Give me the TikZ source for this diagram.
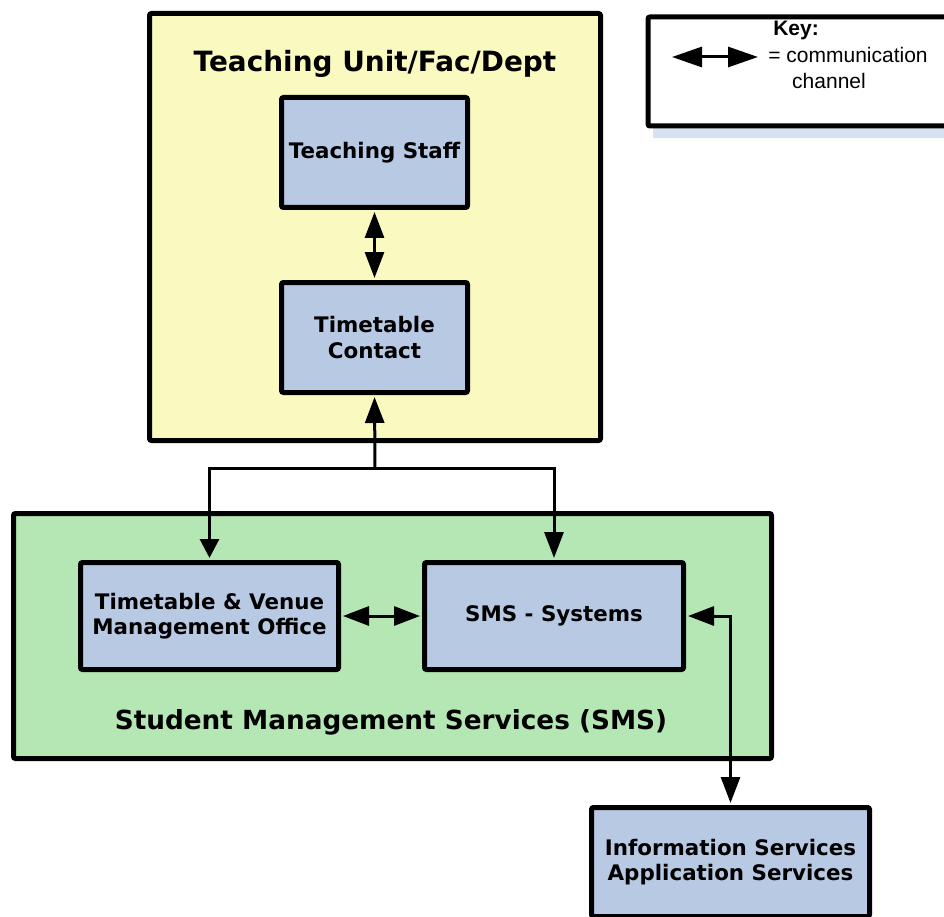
\documentclass[tikz,border=0pt]{standalone}
\usepackage{fontspec}
\setmainfont{DejaVu Sans}
\newfontfamily\keyfont{Liberation Sans}
\usetikzlibrary{arrows.meta}
\definecolor{yel}{RGB}{250,250,192}
\definecolor{grn}{RGB}{181,231,180}
\definecolor{bluebox}{RGB}{184,201,227}
\definecolor{shad}{RGB}{214,226,242}
\tikzset{
  outerbox/.style={draw, line width=5pt, rounded corners=2pt},
  innerbox/.style={draw, line width=5pt, rounded corners=2pt, fill=bluebox, align=center,
    font=\bfseries\fontsize{21.4}{25.5}\selectfont},
  bigtitle/.style={font=\bfseries\fontsize{26.3}{30}\selectfont},
  conn/.style={line width=3pt},
  tipa/.style={-{Triangle[length=26pt,width=19pt]}, shorten >=2pt},
  tipb/.style={{Triangle[length=26pt,width=19pt]}-{Triangle[length=26pt,width=19pt]}, shorten >=2pt, shorten <=2pt},
}
\begin{document}
\begin{tikzpicture}[x=1pt,y=-1pt]
\useasboundingbox (0,0) rectangle (944,917);
\clip (0,0) rectangle (944,917);
% containers
\node[outerbox, fill=yel, minimum width=451pt, minimum height=427pt] (tu) at (375,227) {};
\node[bigtitle, font=\bfseries\fontsize{27.9}{32}\selectfont] (tut) at (375,64) {Teaching Unit/Fac/Dept};
\node[outerbox, fill=grn, minimum width=758pt, minimum height=245pt] (sms) at (392.5,636) {};
\node[bigtitle] (smst) at (391,722) {Student Management Services (SMS)};
% inner boxes
\node[innerbox, minimum width=186pt, minimum height=110pt] (ts) at (374.5,152.5) {Teaching Staff};
\node[innerbox, minimum width=186pt, minimum height=110pt] (tc) at (374.5,337.5) {Timetable\\Contact};
\node[innerbox, minimum width=258pt, minimum height=107pt] (tv) at (209.5,616) {Timetable \& Venue\\Management Office};
\node[innerbox, minimum width=259pt, minimum height=107pt] (ss) at (554,616) {SMS - Systems};
\node[innerbox, minimum width=278pt, minimum height=109pt] (is) at (730.5,862) {Information Services\\Application Services};
% key
\fill[shad] (653,126) rectangle (944,138);
\node[outerbox, fill=white, minimum width=330pt, minimum height=109pt, anchor=north west] (key) at (645.5,14.5) {};
\node[font=\keyfont\bfseries\fontsize{21}{24}\selectfont] (keyt) at (796,30) {Key:};
\node[font=\keyfont\fontsize{21}{24}\selectfont] (keyc) at (848,55) {= communication};
\node[font=\keyfont\fontsize{21}{24}\selectfont] (keyd) at (829,81) {channel};
\coordinate (ka) at (672,57);
\coordinate (kb) at (758,57);
\draw[conn, {Triangle[length=30pt,width=20pt]}-{Triangle[length=30pt,width=20pt]}] (ka) -- (kb);
% connectors
\coordinate (j) at (375,468);
\draw[conn, tipb] (ts.south) -- (tc.north);
\draw[conn, tipa] (j) -- (tc.south);
\draw[conn, -{Triangle[length=19pt,width=19pt]}, shorten >=2pt] (j) -| (tv.north);
\draw[conn, tipa] (j) -| (ss.north);
\draw[conn, tipb] (tv.east) -- (ss.west);
\draw[conn, tipb] (ss.east) -| (is.north);
\end{tikzpicture}
\end{document}
